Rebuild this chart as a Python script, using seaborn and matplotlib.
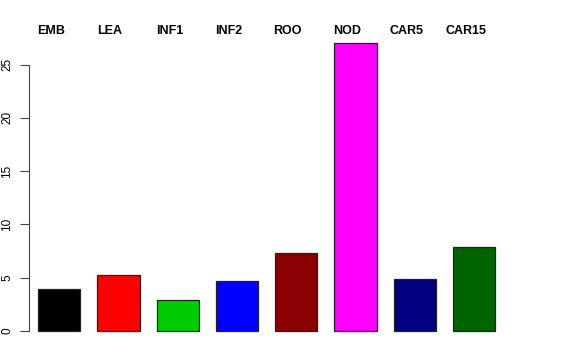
import matplotlib
matplotlib.use("Agg")
import matplotlib.pyplot as plt
import matplotlib.transforms as mtransforms
import seaborn as sns
import pandas as pd

# data
tissues = ['EMB', 'LEA', 'INF1', 'INF2', 'ROO', 'NOD', 'CAR5', 'CAR15']
values = [3.97, 5.22, 2.94, 4.66, 7.32, 27.0, 4.85, 7.85]
colors = ['#000000', '#FF0000', '#00CD00', '#0000FF', '#8B0000', '#FF00FF', '#000080', '#006400']
yticks = [0, 5, 10, 15, 20, 25]

sns.set_style("white")
plt.rcParams['font.family'] = ['Liberation Sans', 'DejaVu Sans']
plt.rcParams['text.color'] = 'black'
plt.rcParams['ytick.color'] = 'black'

df = pd.DataFrame({'tissue': tissues, 'value': values})

W, H = 576, 360
fig = plt.figure(figsize=(W / 100, H / 100), dpi=100)
# axes placed in pixels so that y=0 sits at 331px and y=25 at 66px
left, right = 29.3, 546
bottom_px, top_px = 342.5, 31.7
ax = fig.add_axes([left / W, 1 - bottom_px / H, (right - left) / W, (bottom_px - top_px) / H])

sns.barplot(data=df, x='tissue', y='value', hue='tissue', palette=colors,
            order=tissues, hue_order=tissues, legend=False, width=0.71,
            edgecolor='#222222', linewidth=0.9, saturation=1, ax=ax)

ax.set_ylim(-1.08, 28.08)
ax.set_xlim(-0.506, 8.215)
ax.set_xticks([])
ax.set_yticks(yticks)
ax.set_yticklabels([str(t) for t in yticks], rotation=90, va='center', fontsize=8.5)
ax.tick_params(axis='y', direction='out', length=6.2, width=0.8, color='#444444',
               labelcolor='black', pad=5.5, left=True)
ax.set_xlabel('')
ax.set_ylabel('')
for s in ['top', 'right', 'bottom']:
    ax.spines[s].set_visible(False)
ax.spines['left'].set_bounds(0, 25)
ax.spines['left'].set_color('#444444')
ax.spines['left'].set_linewidth(0.8)

# header labels across the top, a little left of each bar centre
trans = mtransforms.blended_transform_factory(ax.transData, fig.transFigure)
trans = trans + mtransforms.ScaledTranslation(-8.5 / 100, 0, fig.dpi_scale_trans)
for i, name in enumerate(tissues):
    ax.text(i, 1 - 30.5 / H, name, transform=trans, ha='center', va='center',
            fontsize=9, fontweight='bold', color='black', clip_on=False)

fig.savefig('out.png', dpi=100)
